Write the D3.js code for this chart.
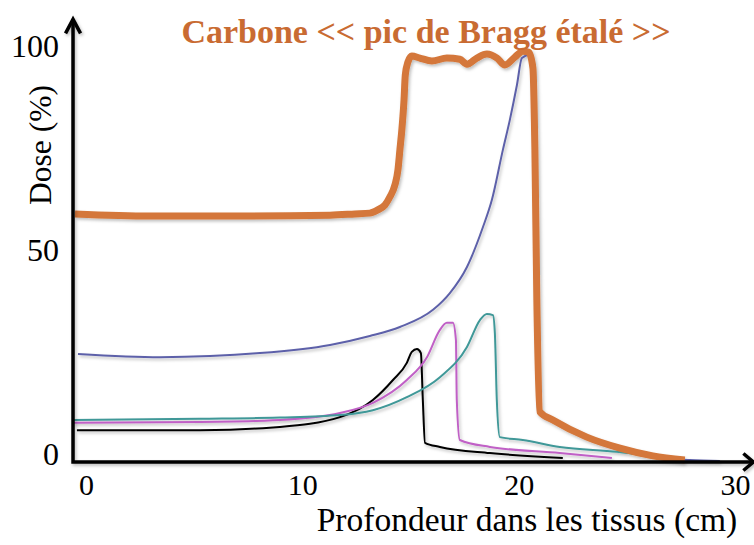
<!DOCTYPE html>
<html>
<head>
<meta charset="utf-8">
<script src="https://cdn.jsdelivr.net/npm/d3@7"></script>
<style>
	body { margin: 0; background: #fff; }
	svg { display: block; }
	.tick_label { font-family: "Liberation Serif", "DejaVu Serif", serif; fill: #000; }
	.axis_title { font-family: "Liberation Serif", "DejaVu Serif", serif; font-size: 33.5px; fill: #000; }
	.chart_title { font-family: "Liberation Serif", "DejaVu Serif", serif; font-size: 34px; font-weight: bold; fill: #C96B32; }
</style>
</head>
<body>
<div id="chart"></div>
<script>

// x ticks (cm) and y ticks (%)
let x_ticks = [0, 10, 20, 30];
let y_ticks = [0, 50, 100];

// each curve: depth (cm) and dose (%)
let black_depth = [-0.42, 5.27, 8.96, 11.74, 13.26, 14.19, 14.83, 15.06, 15.30, 15.48, 15.57, 15.67, 16.36, 18.67, 22.04];
let black_dose = [7.8, 7.8, 8.6, 11.0, 15.2, 20.1, 24.3, 27.0, 27.7, 26.7, 15.2, 4.7, 3.7, 2.2, 1.0];

let magenta_depth = [-0.60, 5.27, 8.96, 11.74, 13.26, 14.83, 15.76, 16.36, 16.68, 16.96, 17.10, 17.14, 17.28, 18.67, 21.90, 24.31];
let magenta_dose = [9.6, 9.8, 10.3, 12.0, 14.5, 20.1, 25.7, 32.4, 34.1, 34.1, 29.9, 15.2, 5.4, 3.7, 2.2, 1.0];

let teal_depth = [-0.60, 5.27, 8.96, 11.74, 13.26, 14.83, 16.36, 17.61, 18.21, 18.53, 18.81, 18.90, 18.99, 19.13, 20.19, 21.90, 24.54, 26.52];
let teal_dose = [10.3, 10.6, 10.9, 11.5, 12.7, 15.9, 20.8, 28.2, 34.8, 36.3, 36.0, 31.6, 15.2, 6.1, 5.4, 3.7, 2.5, 1.2];

let blue_depth = [-0.37, 3.42, 8.04, 11.28, 13.12, 14.51, 16.04, 16.82, 17.61, 18.35, 18.76, 19.27, 19.59, 19.92, 20.15, 20.52, 20.75, 20.89, 21.58, 23.15, 24.68, 26.20, 27.91, 29.30];
let blue_dose = [26.5, 25.7, 26.7, 28.7, 30.9, 33.1, 37.3, 41.4, 47.8, 57.6, 64.2, 76.5, 83.8, 92.4, 99.0, 99.8, 76.5, 12.3, 10.0, 5.9, 2.9, 1.2, 0.5, 0.25];

let carbon_depth = [-0.51, 2.96, 7.58, 11.28, 12.43, 13.12, 13.49, 13.82, 14.05, 14.28, 14.42, 14.51, 14.60, 14.70, 14.76, 14.88, 15.06, 15.43, 15.99, 16.68, 17.28, 17.61, 18.07, 18.53, 19.00, 19.36, 19.82, 20.19, 20.47, 20.66, 20.75, 20.84, 20.98, 21.58, 23.15, 24.68, 26.20, 27.68];
let carbon_dose = [60.8, 60.3, 60.3, 60.5, 60.8, 61.0, 61.8, 63.0, 65.0, 67.9, 71.6, 76.5, 81.4, 88.7, 94.9, 98.0, 99.5, 99.0, 98.3, 99.0, 98.7, 97.5, 99.0, 100.0, 99.0, 97.3, 99.2, 100.7, 100.4, 96.5, 76.5, 39.7, 12.3, 10.3, 6.1, 3.4, 1.5, 0.5];

draw_chart();

function draw_chart()
{
	/**
	 * draw the dose / depth chart
	 */
	let width = 754;
	let height = 545;

	let svg = d3.select("#chart")
		.append("svg")
		.attr("width", width)
		.attr("height", height);

	//soft shadow like the original slide
	let filter = svg.append("defs")
		.append("filter")
		.attr("id", "shadow")
		.attr("x", "-10%").attr("y", "-10%")
		.attr("width", "120%").attr("height", "120%");
	filter.append("feDropShadow")
		.attr("dx", 1.5).attr("dy", 2)
		.attr("stdDeviation", 1.5)
		.attr("flood-color", "#000")
		.attr("flood-opacity", 0.25);

	//scales
	let x_scale = d3.scaleLinear()
		.domain([0, 30])
		.range([86, 735]);

	let y_scale = d3.scaleLinear()
		.domain([0, 100])
		.range([462, 54]);

	let line = d3.line()
		.x(d => x_scale(d[0]))
		.y(d => y_scale(d[1]))
		.curve(d3.curveMonotoneX);

	let curves = [
		{depth: blue_depth, dose: blue_dose, color: "#5D61A9", w: 2},
		{depth: black_depth, dose: black_dose, color: "#000000", w: 2},
		{depth: magenta_depth, dose: magenta_dose, color: "#C060C6", w: 2},
		{depth: teal_depth, dose: teal_dose, color: "#3F9898", w: 2},
		{depth: carbon_depth, dose: carbon_dose, color: "#D4773A", w: 7}
	];

	let g_curves = svg.append("g")
		.attr("filter", "url(#shadow)");

	g_curves.selectAll("path")
		.data(curves)
		.enter()
		.append("path")
		.attr("d", d => line(d3.zip(d.depth, d.dose)))
		.attr("fill", "none")
		.attr("stroke", d => d.color)
		.attr("stroke-width", d => d.w)
		.attr("stroke-linejoin", "round")
		.attr("stroke-linecap", "butt");

	//axis lines with arrow heads
	let x0 = x_scale(-0.6);
	let y0 = y_scale(0);
	let y_top = y_scale(108.5);
	let x_end = x_scale(30.85);

	let g_axes = svg.append("g")
		.attr("filter", "url(#shadow)")
		.attr("fill", "none")
		.attr("stroke", "#000")
		.attr("stroke-width", 3.5);

	g_axes.append("path")
		.attr("d", "M" + x0 + "," + y_top + "V" + y0 + "H" + x_end);

	g_axes.append("path")
		.attr("stroke-linejoin", "miter")
		.attr("d", "M" + (x0 - 7.5) + "," + (y_top + 14) + "L" + x0 + "," + y_top + "L" + (x0 + 7.5) + "," + (y_top + 14));

	g_axes.append("path")
		.attr("stroke-linejoin", "miter")
		.attr("d", "M" + (x_end - 10) + "," + (y0 - 8.5) + "L" + x_end + "," + y0 + "L" + (x_end - 10) + "," + (y0 + 8.5));

	//x ticks
	let x_axis = d3.axisBottom(x_scale)
		.tickValues(x_ticks)
		.tickSize(0)
		.tickPadding(0)
		.tickFormat(d3.format("d"));

	let gx = svg.append("g")
		.attr("transform", "translate(0," + y0 + ")")
		.call(x_axis);
	gx.select(".domain").remove();
	gx.selectAll("text")
		.attr("class", "tick_label")
		.attr("font-size", 30)
		.attr("dy", null)
		.attr("y", 33);

	//y ticks
	let y_axis = d3.axisLeft(y_scale)
		.tickValues(y_ticks)
		.tickSize(0)
		.tickPadding(0)
		.tickFormat(d3.format("d"));

	let gy = svg.append("g")
		.attr("transform", "translate(59,0)")
		.call(y_axis);
	gy.select(".domain").remove();
	gy.selectAll("text")
		.attr("class", "tick_label")
		.attr("font-size", 32)
		.attr("dy", "0.3em")
		.attr("y", -7);

	//axis titles
	svg.append("text")
		.attr("class", "axis_title")
		.attr("text-anchor", "middle")
		.attr("x", 527)
		.attr("y", 531)
		.text("Profondeur dans les tissus (cm)");

	svg.append("text")
		.attr("class", "axis_title")
		.attr("text-anchor", "middle")
		.attr("transform", "translate(51,145) rotate(-90)")
		.style("font-size", "31.5px")
		.text("Dose (%)");

	//title
	svg.append("text")
		.attr("class", "chart_title")
		.attr("text-anchor", "middle")
		.attr("x", 426)
		.attr("y", 43)
		.text("Carbone << pic de Bragg étalé >>");
}

</script>
</body>
</html>
